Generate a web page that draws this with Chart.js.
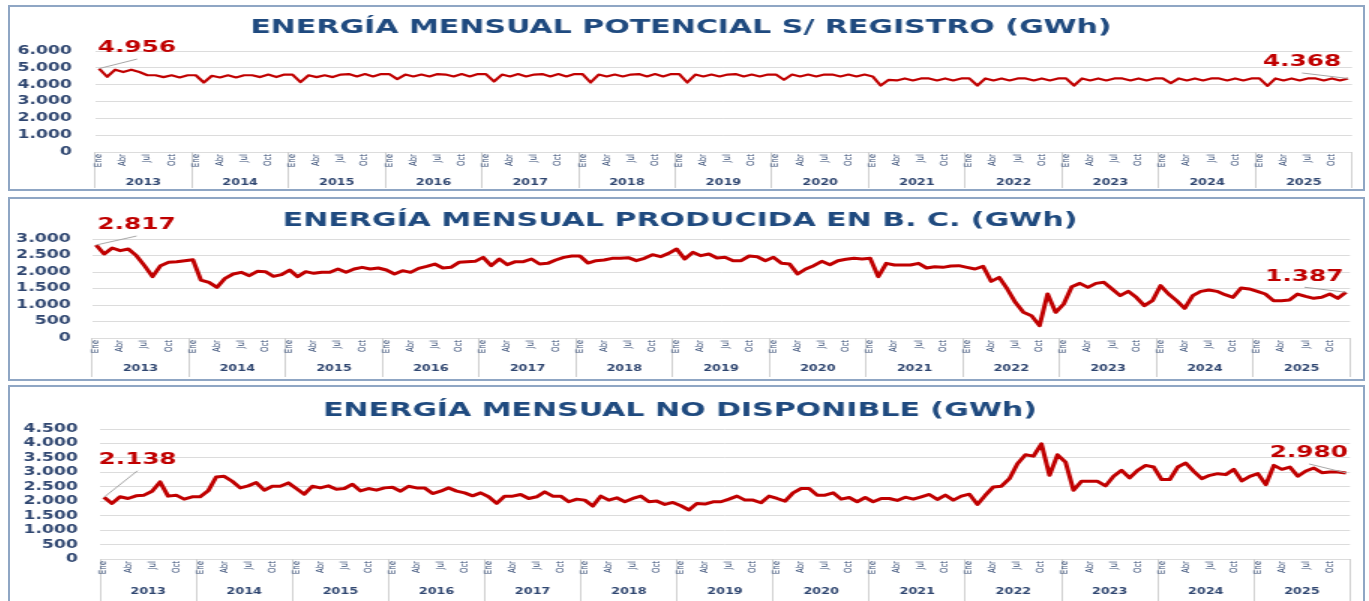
<!DOCTYPE html>
<html>
<head>
<meta charset="utf-8">
<script src="https://cdn.jsdelivr.net/npm/chart.js@4.4.1/dist/chart.umd.min.js"></script>
<style>
  body { margin: 0; background: #fff; width: 1369px; height: 601px; overflow: hidden; position: relative; }
  .panel { position: absolute; left: 8px; width: 1353px; border: 2px solid #8fa6c4; background: #fff; overflow: hidden; }
  .stretch { width: 902px; height: 100%; transform: scaleX(1.5); transform-origin: 0 0; }
</style>
</head>
<body>
<div class="panel" style="top:5px;height:182px"><div class="stretch"><canvas id="c1"></canvas></div></div>
<div class="panel" style="top:197px;height:180px"><div class="stretch"><canvas id="c2"></canvas></div></div>
<div class="panel" style="top:385px;height:226px"><div class="stretch"><canvas id="c3"></canvas></div></div>
<script>
// Datos (GWh) - enero 2013 a diciembre 2025
const years = ['2013', '2014', '2015', '2016', '2017', '2018', '2019', '2020', '2021', '2022', '2023', '2024', '2025'];
const months = ['Ene', 'Feb', 'Mar', 'Abr', 'May', 'Jun', 'Jul', 'Ago', 'Sep', 'Oct', 'Nov', 'Dic'];
const shownMonths = ['Ene', 'Abr', 'Jul', 'Oct'];

const potencial = [
    4956, 4470, 4890, 4750, 4890, 4750, 4560, 4560, 4450, 4560, 4430, 4560,
    4560, 4130, 4530, 4430, 4560, 4430, 4560, 4560, 4450, 4600, 4450, 4600,
    4600, 4150, 4560, 4450, 4560, 4450, 4600, 4630, 4490, 4630, 4490, 4630,
    4630, 4330, 4600, 4490, 4600, 4490, 4630, 4600, 4490, 4630, 4490, 4630,
    4630, 4190, 4600, 4490, 4630, 4490, 4600, 4630, 4490, 4630, 4490, 4630,
    4630, 4130, 4600, 4490, 4600, 4490, 4600, 4630, 4490, 4630, 4490, 4630,
    4630, 4130, 4600, 4490, 4600, 4490, 4600, 4630, 4490, 4600, 4490, 4600,
    4600, 4290, 4600, 4490, 4600, 4490, 4600, 4600, 4490, 4600, 4490, 4600,
    4490, 3950, 4290, 4250, 4370, 4250, 4370, 4370, 4250, 4370, 4250, 4370,
    4370, 3950, 4370, 4250, 4370, 4250, 4370, 4370, 4250, 4370, 4250, 4370,
    4370, 3950, 4370, 4250, 4370, 4250, 4370, 4370, 4250, 4370, 4250, 4370,
    4370, 4090, 4370, 4250, 4370, 4250, 4370, 4370, 4250, 4370, 4250, 4370,
    4370, 3930, 4370, 4250, 4370, 4250, 4370, 4370, 4250, 4370, 4250, 4368
];

const producida = [
    2817, 2545, 2727, 2646, 2697, 2495, 2192, 1858, 2192, 2293, 2313, 2343,
    2373, 1757, 1687, 1535, 1808, 1939, 1990, 1889, 2020, 2010, 1868, 1919,
    2060, 1858, 2010, 1960, 1990, 1990, 2091, 1990, 2091, 2141, 2091, 2121,
    2060, 1939, 2040, 1990, 2111, 2171, 2242, 2121, 2141, 2293, 2313, 2323,
    2444, 2192, 2394, 2222, 2313, 2313, 2394, 2242, 2262, 2363, 2444, 2485,
    2485, 2272, 2343, 2363, 2414, 2414, 2434, 2343, 2414, 2525, 2464, 2565,
    2697, 2394, 2596, 2495, 2545, 2424, 2444, 2343, 2343, 2485, 2464, 2343,
    2444, 2262, 2242, 1939, 2091, 2192, 2323, 2222, 2343, 2384, 2414, 2394,
    2414, 1858, 2262, 2212, 2212, 2212, 2262, 2121, 2161, 2141, 2181, 2192,
    2141, 2091, 2171, 1717, 1838, 1485, 1081, 778, 677, 374, 1333, 778,
    1030, 1555, 1656, 1535, 1656, 1687, 1485, 1283, 1414, 1232, 980, 1131,
    1586, 1333, 1131, 899, 1283, 1414, 1454, 1414, 1313, 1232, 1515, 1485,
    1414, 1333, 1131, 1131, 1151, 1333, 1262, 1202, 1232, 1333, 1202, 1387
];

const noDisponible = [
    2138, 1924, 2153, 2095, 2187, 2210, 2347, 2668, 2176, 2210, 2072, 2153,
    2153, 2359, 2840, 2863, 2691, 2462, 2531, 2645, 2382, 2519, 2519, 2634,
    2439, 2244, 2519, 2462, 2531, 2416, 2439, 2588, 2359, 2439, 2382, 2462,
    2485, 2347, 2519, 2462, 2462, 2267, 2347, 2462, 2350, 2290, 2187, 2290,
    2153, 1924, 2176, 2176, 2233, 2095, 2153, 2324, 2176, 2176, 1981, 2072,
    2038, 1832, 2176, 2038, 2118, 1981, 2095, 2176, 1981, 2004, 1889, 1958,
    1844, 1695, 1924, 1901, 1981, 1981, 2072, 2176, 2038, 2038, 1947, 2176,
    2095, 2004, 2290, 2439, 2439, 2210, 2210, 2290, 2072, 2130, 1981, 2130,
    1981, 2095, 2095, 2027, 2140, 2072, 2153, 2233, 2061, 2210, 2038, 2176,
    2244, 1889, 2210, 2496, 2519, 2782, 3298, 3607, 3561, 3985, 2897, 3607,
    3355, 2382, 2691, 2691, 2691, 2531, 2863, 3069, 2805, 3069, 3240, 3183,
    2748, 2748, 3183, 3321, 3034, 2782, 2897, 2954, 2920, 3103, 2702, 2863,
    2954, 2576, 3240, 3103, 3183, 2863, 3046, 3149, 2988, 3011, 3011, 2980
];

const ticksPotencial = [0, 1000, 2000, 3000, 4000, 5000, 6000];
const ticksProducida = [0, 500, 1000, 1500, 2000, 2500, 3000];
const ticksNoDisponible = [0, 500, 1000, 1500, 2000, 2500, 3000, 3500, 4000, 4500];

const labels = years.flatMap(y => months.map(m => m + ' ' + y));

// Estilos
const STRETCH = 1.5;
const FONT = '"DejaVu Sans", Verdana, sans-serif';
const RED = '#c00000';
const AXIS_TEXT = '#2f4670';
const SEP = '#d0d0d0';

function fmt(v) {
    return String(v).replace(/\B(?=(\d{3})+(?!\d))/g, '.');
}

// Etiquetas del primer y ultimo valor
const firstLastLabels = {
    id: 'firstLastLabels',
    afterDatasetsDraw(chart, args, opts) {
        const meta = chart.getDatasetMeta(0);
        const data = chart.data.datasets[0].data;
        const ctx = chart.ctx;
        ctx.save();
        ctx.font = 'bold 16.5px ' + FONT;
        ctx.textAlign = 'center';
        ctx.textBaseline = 'middle';
        opts.items.forEach(item => {
            const i = item.index < 0 ? data.length - 1 : item.index;
            const pt = meta.data[i];
            const lx = pt.x + item.dx / STRETCH;
            const ly = pt.y + item.dy;
            ctx.strokeStyle = '#a6a6a6';
            ctx.lineWidth = 1;
            ctx.beginPath();
            ctx.moveTo(pt.x, pt.y);
            ctx.lineTo(lx, ly + 11);
            ctx.stroke();
            ctx.fillStyle = RED;
            ctx.fillText(fmt(data[i]), lx, ly);
        });
        ctx.restore();
    }
};

function makeChart(id, title, values, yTicks, lay) {
    const n = labels.length;
    const yearTicks = years.flatMap((y, k) => [{ value: 12 * k - 0.5 }, { value: 12 * k + 5.5 }])
        .concat([{ value: n - 0.5 }]);

    return new Chart(document.getElementById(id), {
        type: 'line',
        data: {
            labels: labels,
            datasets: [{
                data: values,
                borderColor: RED,
                borderWidth: lay.lineWidth,
                pointRadius: 0,
                tension: 0,
                fill: false,
                borderJoinStyle: 'round'
            }]
        },
        options: {
            responsive: true,
            maintainAspectRatio: false,
            animation: false,
            layout: { padding: { left: 0, right: lay.right, top: 0, bottom: lay.bottom } },
            plugins: {
                legend: { display: false },
                tooltip: { enabled: false },
                title: {
                    display: true,
                    text: title,
                    color: '#1f4a7f',
                    font: { family: FONT, size: 20, weight: 'bold' },
                    padding: { top: lay.titleTop, bottom: lay.titleBottom }
                },
                firstLastLabels: { items: lay.items }
            },
            scales: {
                y: {
                    min: yTicks[0],
                    max: yTicks[yTicks.length - 1],
                    afterBuildTicks: s => { s.ticks = yTicks.map(v => ({ value: v })); },
                    afterFit: s => { s.width = lay.left; },
                    border: { display: false },
                    grid: { color: '#dcdcdc', lineWidth: 1, drawTicks: false },
                    ticks: {
                        autoSkip: false,
                        padding: lay.yPad,
                        color: AXIS_TEXT,
                        font: { family: FONT, size: 11.5, weight: 'bold' },
                        callback: v => fmt(v)
                    }
                },
                x: {
                    type: 'category',
                    offset: true,
                    weight: 0,
                    afterFit: s => { s.height = lay.monthH; },
                    border: { display: false },
                    grid: {
                        offset: true,
                        drawOnChartArea: false,
                        drawTicks: true,
                        tickLength: lay.monthH,
                        lineWidth: 1,
                        color: c => (c.index === undefined || c.index % 12 === 0) ? SEP : 'rgba(0,0,0,0)'
                    },
                    ticks: {
                        autoSkip: false,
                        minRotation: 90,
                        maxRotation: 90,
                        padding: 2 - lay.monthH,
                        color: AXIS_TEXT,
                        font: { family: FONT, size: 7 },
                        callback: function (v) {
                            const m = this.getLabelForValue(v).split(' ')[0];
                            return shownMonths.includes(m) ? m : '';
                        }
                    }
                },
                x2: {
                    type: 'linear',
                    axis: 'x',
                    position: 'bottom',
                    weight: 1,
                    min: -0.5,
                    max: n - 0.5,
                    afterBuildTicks: s => { s.ticks = yearTicks.map(t => ({ value: t.value })); },
                    afterFit: s => { s.height = lay.yearH; },
                    border: { display: false },
                    grid: {
                        drawOnChartArea: false,
                        drawTicks: true,
                        tickLength: lay.yearH,
                        lineWidth: 1,
                        color: c => c.index % 2 === 0 ? SEP : 'rgba(0,0,0,0)'
                    },
                    ticks: {
                        autoSkip: false,
                        maxRotation: 0,
                        padding: lay.yearText - lay.yearH,
                        color: AXIS_TEXT,
                        font: { family: FONT, size: 8.5, weight: 'bold' },
                        callback: (v, i) => i % 2 ? years[(i - 1) / 2] : ''
                    }
                }
            }
        },
        plugins: [firstLastLabels]
    });
}

makeChart('c1', 'ENERGÍA MENSUAL POTENCIAL S/ REGISTRO (GWh)', potencial, ticksPotencial, {
    left: 56.7, right: 7.3, bottom: 1, titleTop: 9, titleBottom: 11, yPad: 15.4,
    monthH: 23, yearH: 13, yearText: 2.5, lineWidth: 2.2,
    items: [{ index: 0, dx: 38, dy: -20.5 }, { index: -1, dx: -46, dy: -16.5 }]
});

makeChart('c2', 'ENERGÍA MENSUAL PRODUCIDA EN B. C. (GWh)', producida, ticksProducida, {
    left: 54.7, right: 8.7, bottom: 2, titleTop: 9.6, titleBottom: 6.4, yPad: 14.2,
    monthH: 23, yearH: 16, yearText: 3, lineWidth: 3,
    items: [{ index: 0, dx: 40.5, dy: -20 }, { index: -1, dx: -41.5, dy: -16 }]
});

makeChart('c3', 'ENERGÍA MENSUAL NO DISPONIBLE (GWh)', noDisponible, ticksNoDisponible, {
    left: 60, right: 8.7, bottom: 11, titleTop: 11.6, titleBottom: 6.4, yPad: 14.7,
    monthH: 23, yearH: 20, yearText: 4.5, lineWidth: 3,
    items: [{ index: 0, dx: 33.5, dy: -37.5 }, { index: -1, dx: -37, dy: -20 }]
});
</script>
</body>
</html>
